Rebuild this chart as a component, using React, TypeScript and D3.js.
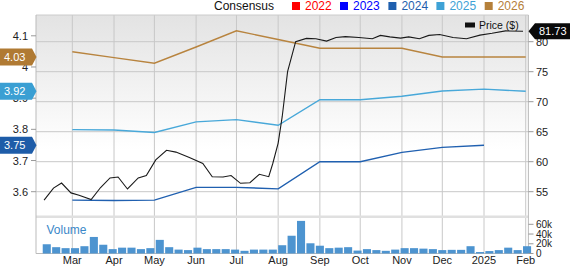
import React from 'react';
import * as d3 from 'd3';

const W = 570;
const H = 266;

const monthTicks = ['2024-03-01','2024-04-01','2024-05-01','2024-06-01','2024-07-01','2024-08-01','2024-09-01','2024-10-01','2024-11-01','2024-12-01','2025-01-01','2025-02-01'];
const monthLabels = ['Mar','Apr','May','Jun','Jul','Aug','Sep','Oct','Nov','Dec','2025','Feb'];

const consensusDates = ['2024-03-01','2024-04-01','2024-05-01','2024-06-01','2024-07-01','2024-08-01','2024-09-01','2024-10-01','2024-11-01','2024-12-01','2025-01-01','2025-02-01'];
const eps2026 = [4.049, 4.030, 4.012, 4.064, 4.116, 4.088, 4.060, 4.060, 4.060, 4.032, 4.032, 4.032];
const eps2025 = [3.799, 3.798, 3.790, 3.824, 3.831, 3.813, 3.895, 3.895, 3.906, 3.923, 3.929, 3.922];
const eps2024 = [3.573, 3.572, 3.573, 3.614, 3.614, 3.609, 3.696, 3.696, 3.726, 3.742, 3.749];

const priceDates = ['2024-02-09','2024-02-16','2024-02-22','2024-02-29','2024-03-06','2024-03-15','2024-03-22','2024-03-29','2024-04-04','2024-04-11','2024-04-19','2024-04-25','2024-05-02','2024-05-10','2024-05-17','2024-05-27','2024-06-06','2024-06-13','2024-06-21','2024-06-27','2024-07-04','2024-07-11','2024-07-18','2024-07-25','2024-07-28','2024-08-01','2024-08-04','2024-08-08','2024-08-14','2024-08-22','2024-08-29','2024-09-06','2024-09-13','2024-09-20','2024-09-30','2024-10-10','2024-10-16','2024-10-23','2024-10-31','2024-11-06','2024-11-14','2024-11-21','2024-11-29','2024-12-09','2024-12-19','2024-12-29','2025-01-07','2025-01-17','2025-01-30'];
const priceValues = [53.6, 55.6, 56.45, 54.8, 54.4, 53.7, 55.7, 57.3, 57.45, 55.45, 57.3, 57.7, 60.3, 61.9, 61.6, 60.7, 59.7, 57.5, 57.45, 57.7, 56.4, 56.5, 57.9, 57.5, 59.7, 63.1, 67.5, 75.0, 80.0, 80.55, 80.5, 80.1, 80.7, 80.85, 80.7, 80.5, 81.05, 80.8, 80.6, 80.8, 80.5, 81.05, 81.2, 80.7, 80.5, 81.1, 81.4, 81.8, 81.73];

const volumeStart = '2024-02-08';
const volumesK = [19,13,11,11,15,34,18,9,12,12,9,11,28,13,8,7,12,9,9,9,8,5.5,8,8,8,17,36.5,67,21,16,11,12,13,6,9,7,5.5,8,11,11,10,9,7,7.5,7.5,15,3,5,7,12,7,15];

const epsTicks = [3.6, 3.7, 3.8, 3.9, 4.0, 4.1];
const priceTicks = [55, 60, 65, 70, 75, 80];
const volTicks = [0, 20, 40, 60];

const legendYears = ['2022','2023','2024','2025','2026'];
const legendColors = ['#ff0000','#0000ff','#1f5fae','#3ea2d6','#b5803a'];

const badgeLabels = ['4.03','3.92','3.75'];
const badgeValues = [4.032, 3.922, 3.749];
const badgeColors = ['#b07a33','#3a9fd3','#1e5ca8'];
const lastPrice = 81.73;

const FONT = '"Liberation Sans", Arial, sans-serif';

export default function App() {
  const parse = d3.timeParse('%Y-%m-%d');
  const x = d3.scaleTime().domain([parse('2024-02-03')!, parse('2025-02-03')!]).range([36, 528.4]);
  const yEps = d3.scaleLinear().domain([3.6, 4.1]).range([191.7, 35.8]);
  const yPrice = d3.scaleLinear().domain([55, 80]).range([191.7, 41.7]);
  const yVol = d3.scaleLinear().domain([0, 60]).range([253.5, 224.3]);

  const left = 36, right = 528.4, top = 15, mainBottom = 215.5, volTop = 218, bottom = 253.5;

  const lineGen = d3.line<[Date, number]>().x(d => x(d[0])).y(d => d[1]);
  const epsPath = (vals: number[]) =>
    lineGen(vals.map((v, i) => [parse(consensusDates[i])!, yEps(v)] as [Date, number]));
  const pricePath = lineGen(priceValues.map((v, i) => [parse(priceDates[i])!, yPrice(v)] as [Date, number]));

  const vStart = parse(volumeStart)!;
  const bars = volumesK.map((v, i) => {
    const d0 = d3.timeDay.offset(vStart, 7 * i);
    const d1 = d3.timeDay.offset(vStart, 7 * i + 6);
    return { x: x(d0), w: x(d1) - x(d0), y: yVol(v), h: yVol(0) - yVol(v) };
  });

  // legend layout
  const legendX = [292, 340, 388.4, 436.4, 484.7];

  const priceBadgeY = yPrice(lastPrice);

  return (
    <svg width={W} height={H} style={{ position: 'absolute', left: 0, top: 0, fontFamily: FONT }}>
      <defs>
        <linearGradient id="bg" gradientUnits="userSpaceOnUse" x1="0" y1={top} x2="0" y2={150}>
          <stop offset="0" stopColor="#e3e3e3" />
          <stop offset="1" stopColor="#ffffff" />
        </linearGradient>
        <clipPath id="mainClip">
          <rect x={left} y={top} width={right - left} height={mainBottom - top} />
        </clipPath>
      </defs>
      <rect x={0} y={0} width={W} height={H} fill="#fff" />
      {/* main panel background */}
      <rect x={left} y={top} width={right - left} height={mainBottom - top} fill="url(#bg)" />
      {/* horizontal gridlines */}
      {priceTicks.map(t => (
        <line key={'hg' + t} x1={left} x2={right} y1={yPrice(t)} y2={yPrice(t)} stroke="#c8c8c8" strokeWidth={1} />
      ))}
      {/* vertical gridlines */}
      {monthTicks.map(m => (
        <line key={'vg' + m} x1={x(parse(m)!)} x2={x(parse(m)!)} y1={top} y2={bottom} stroke="#c8c8c8" strokeWidth={1} />
      ))}
      {/* separator */}
      <rect x={left} y={mainBottom} width={right - left} height={volTop - mainBottom} fill="#e0e0e0" />
      {/* borders */}
      <line x1={left} x2={right} y1={top} y2={top} stroke="#cccccc" />
      <line x1={left} x2={left} y1={top} y2={bottom} stroke="#bbbbbb" />
      <line x1={right} x2={right} y1={top} y2={bottom} stroke="#bbbbbb" />
      <line x1={left} x2={right} y1={bottom} y2={bottom} stroke="#bbbbbb" />

      {/* volume */}
      <text x={46.5} y={233.5} fontSize={12} fill="#3a87c8">Volume</text>
      {bars.map((b, i) => (
        <rect key={'b' + i} x={b.x} y={b.y} width={b.w} height={b.h} fill="#4d94d0" />
      ))}

      {/* EPS lines */}
      <g clipPath="url(#mainClip)" fill="none">
        <path d={epsPath(eps2026) || ''} stroke="#b8843f" strokeWidth={1.4} />
        <path d={epsPath(eps2025) || ''} stroke="#48a8d9" strokeWidth={1.4} />
        <path d={epsPath(eps2024) || ''} stroke="#2060b0" strokeWidth={1.4} />
        <path d={pricePath || ''} stroke="#1a1a1a" strokeWidth={1.1} />
      </g>

      {/* Price legend */}
      <rect x={465} y={22.5} width={10} height={5} fill="#111" />
      <text x={479} y={29} fontSize={10.5} fill="#111">Price ($)</text>

      {/* left axis */}
      {epsTicks.map(t => (
        <g key={'le' + t}>
          <line x1={31} x2={left} y1={yEps(t)} y2={yEps(t)} stroke="#999" />
          <text x={28} y={yEps(t) + 4} fontSize={11} textAnchor="end" fill="#222">{d3.format('~g')(t)}</text>
        </g>
      ))}
      {/* right axis */}
      {priceTicks.map(t => (
        <g key={'rp' + t}>
          <line x1={right} x2={533.5} y1={yPrice(t)} y2={yPrice(t)} stroke="#999" />
          <text x={536} y={yPrice(t) + 4} fontSize={11} fill="#222">{t}</text>
        </g>
      ))}
      {volTicks.map(t => (
        <g key={'rv' + t}>
          <line x1={right} x2={533.5} y1={yVol(t)} y2={yVol(t)} stroke="#999" />
          <text x={536} y={yVol(t) + 3.5} fontSize={10} fill="#222">{t === 0 ? '0' : t + 'k'}</text>
        </g>
      ))}
      {/* bottom axis labels */}
      {monthTicks.map((m, i) => (
        <text key={'ml' + m} x={x(parse(m)!)} y={264} fontSize={11} textAnchor="middle" fill="#222">{monthLabels[i]}</text>
      ))}

      {/* left badges */}
      {badgeValues.map((v, i) => {
        const cy = yEps(v);
        const pts = [[0, cy - 8.5], [32, cy - 8.5], [36.5, cy], [32, cy + 8.5], [0, cy + 8.5]].map(p => p.join(',')).join(' ');
        return (
          <g key={'bd' + i}>
            <polygon points={pts} fill={badgeColors[i]} />
            <text x={4} y={cy + 4} fontSize={11} fill="#fff">{badgeLabels[i]}</text>
          </g>
        );
      })}
      {/* price badge */}
      <polygon
        points={[[528.5, priceBadgeY], [535, priceBadgeY - 8], [570, priceBadgeY - 8], [570, priceBadgeY + 8], [535, priceBadgeY + 8]].map(p => p.join(',')).join(' ')}
        fill="#0a0a0a"
      />
      <text x={539} y={priceBadgeY + 4} fontSize={11} fill="#fff">{d3.format('.2f')(lastPrice)}</text>

      {/* top legend */}
      <text x={214} y={10} fontSize={12} fill="#111">Consensus</text>
      {legendYears.map((yr, i) => (
        <g key={'lg' + yr}>
          <rect x={legendX[i]} y={2} width={8} height={8} fill={legendColors[i]} />
          <text x={legendX[i] + 13} y={10} fontSize={12} fill={legendColors[i]}>{yr}</text>
        </g>
      ))}
    </svg>
  );
}
